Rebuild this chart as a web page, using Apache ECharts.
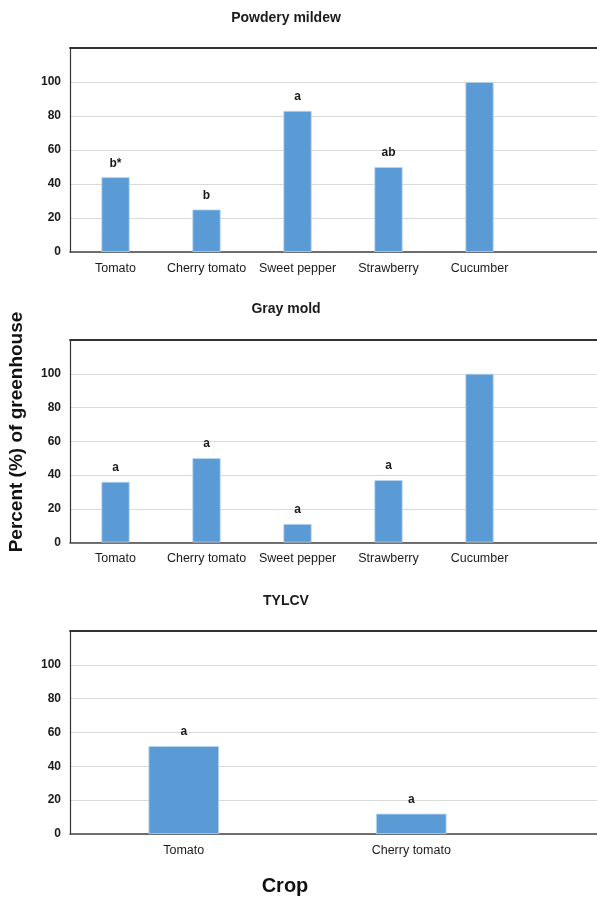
<!DOCTYPE html>
<html>
<head>
<meta charset="utf-8">
<script src="https://cdn.jsdelivr.net/npm/echarts@6/dist/echarts.min.js"></script>
<style>
  html, body { margin: 0; padding: 0; background: #ffffff; }
  #chart { width: 597px; height: 897px; }
</style>
</head>
<body>
<div id="chart"></div>
<script>
// Share (%) of greenhouses affected, by crop, for three diseases
const panelTitles = ['Powdery mildew', 'Gray mold', 'TYLCV'];

const cropsFull = ['Tomato', 'Cherry tomato', 'Sweet pepper', 'Strawberry', 'Cucumber'];
const cropsTylcv = ['Tomato', 'Cherry tomato'];

const powderyMildew = [44, 25, 83, 50, 100];
const grayMold = [36, 50, 11, 37, 100];
const tylcv = [52, 12];

// Letters of mean separation written above bars ('' = none)
const powderyLetters = ['b*', 'b', 'a', 'ab', ''];
const grayLetters = ['a', 'a', 'a', 'a', ''];
const tylcvLetters = ['a', 'a'];

const yTickLabels = ['0', '20', '40', '60', '80', '100'];

const yAxisTitle = 'Percent (%) of greenhouse';
const xAxisTitle = 'Crop';

const FONT = 'Liberation Sans, Arial, sans-serif';
const BAR_COLOR = '#5b9bd5';
const FRAME_COLOR = '#333333';

const panels = [
  { title: panelTitles[0], cats: cropsFull, values: powderyMildew, letters: powderyLetters, top: 48, height: 204, titleY: 18 },
  { title: panelTitles[1], cats: cropsFull, values: grayMold, letters: grayLetters, top: 340, height: 202.5, titleY: 309 },
  { title: panelTitles[2], cats: cropsTylcv, values: tylcv, letters: tylcvLetters, top: 631, height: 203, titleY: 601 }
];

const grid = [], xAxis = [], yAxis = [], series = [];
const graphic = [];

panels.forEach((p, i) => {
  const frameIdx = i * 2;
  const barIdx = i * 2 + 1;

  // Frame grid: open-right box, gridlines and value labels, running off the right edge
  grid.push({ left: 70, right: 0, top: p.top, height: p.height });
  // Plot grid holding the bars and crop names
  grid.push({ left: 70, width: 455, top: p.top, height: p.height });

  // bottom axis line and top edge of the box
  xAxis.push({ gridIndex: frameIdx, type: 'value', min: 0, max: 1, position: 'bottom',
    axisLine: { show: true, onZero: false, lineStyle: { color: '#444', width: 1.5 } },
    axisTick: { show: false }, axisLabel: { show: false }, splitLine: { show: false } });
  xAxis.push({ gridIndex: frameIdx, type: 'value', min: 0, max: 1, position: 'top',
    axisLine: { show: true, onZero: false, lineStyle: { color: FRAME_COLOR, width: 1.8 } },
    axisTick: { show: false }, axisLabel: { show: false }, splitLine: { show: false } });
  xAxis.push({ gridIndex: barIdx, type: 'category', data: p.cats,
    axisLine: { show: false }, axisTick: { show: false },
    axisLabel: { interval: 0, color: '#1a1a1a', fontFamily: FONT, fontSize: 12.5, margin: 10 } });

  yAxis.push({ gridIndex: frameIdx, type: 'value', min: 0, max: 120, interval: 20,
    axisLine: { show: true, onZero: false, lineStyle: { color: FRAME_COLOR, width: 1.2 } },
    axisTick: { show: false },
    axisLabel: { color: '#1a1a1a', fontFamily: FONT, fontSize: 12, fontWeight: 'bold', margin: 9,
      formatter: v => yTickLabels[v / 20] || '' },
    splitLine: { show: true, lineStyle: { color: '#d9d9d9', width: 1 } } });
  yAxis.push({ gridIndex: barIdx, type: 'value', min: 0, max: 120, interval: 20, show: false,
    splitLine: { show: false } });

  series.push({
    type: 'bar', xAxisIndex: i * 3 + 2, yAxisIndex: barIdx,
    data: p.values, barWidth: '31%',
    itemStyle: { color: BAR_COLOR, borderColor: '#bcd7f0', borderWidth: 0.8 },
    label: { show: true, position: 'top', distance: 8,
      formatter: d => p.letters[d.dataIndex],
      color: '#1a1a1a', fontFamily: FONT, fontSize: 12, fontWeight: 'bold' },
    silent: true, animation: false
  });

  // panel heading
  graphic.push({ type: 'text', x: 286, y: p.titleY,
    style: { text: p.title, fontFamily: FONT, fontSize: 14, fontWeight: 'bold', fill: '#1a1a1a',
      align: 'center', verticalAlign: 'middle' } });
});

graphic.push(
  { type: 'text', x: 17, y: 432, rotation: Math.PI / 2,
    style: { text: yAxisTitle, fontFamily: FONT, fontSize: 19, fontWeight: 'bold', fill: '#111',
      align: 'center', verticalAlign: 'middle' } },
  { type: 'text', x: 285, y: 886,
    style: { text: xAxisTitle, fontFamily: FONT, fontSize: 20, fontWeight: 'bold', fill: '#111',
      align: 'center', verticalAlign: 'middle' } }
);

const chart = echarts.init(document.getElementById('chart'), null, { renderer: 'canvas' });
chart.setOption({
  backgroundColor: '#ffffff',
  animation: false,
  grid, xAxis, yAxis, series, graphic
});
</script>
</body>
</html>
